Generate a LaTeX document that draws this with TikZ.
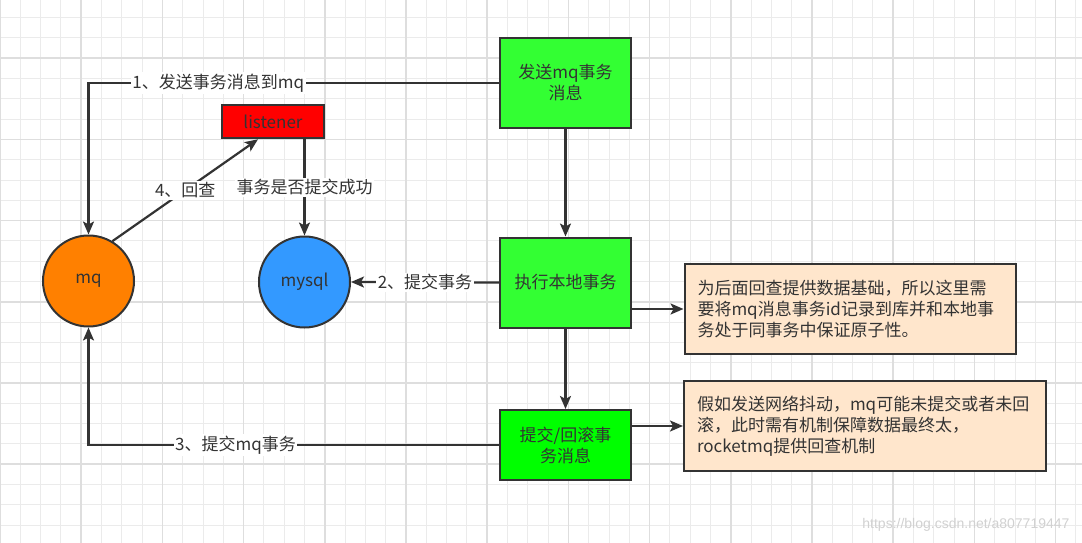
\documentclass[tikz,border=0pt]{standalone}
\usepackage{fontspec}
\setmainfont{Noto Sans CJK SC}
\newfontfamily\wmfont{Liberation Sans}
\usepackage{tikz}
\usetikzlibrary{arrows.meta, positioning}

\definecolor{lineclr}{HTML}{333333}
\definecolor{boxgreen}{HTML}{33FF33}
\definecolor{puregreen}{HTML}{00FF00}
\definecolor{mqorange}{HTML}{FF8000}
\definecolor{dbblue}{HTML}{3399FF}
\definecolor{notepeach}{HTML}{FFE6CC}

\begin{document}
\begin{tikzpicture}[
  x=1pt, y=-1pt,
  every node/.style={font=\fontsize{17}{21}\selectfont, text=lineclr},
  box/.style={
    rectangle, draw=lineclr, line width=2pt,
    minimum width=131pt, minimum height=90pt,
    align=center, inner sep=2pt
  },
  gbox/.style={box, fill=boxgreen},
  cbox/.style={box, fill=puregreen, minimum height=70pt},
  rbox/.style={box, fill=red, minimum width=102.5pt, minimum height=33pt},
  dbnode/.style={circle, draw=lineclr, line width=2pt, minimum size=91pt, inner sep=0pt},
  notebox/.style={
    rectangle, draw=lineclr, line width=2pt, fill=notepeach,
    align=left, inner xsep=13pt, minimum height=90pt
  },
  arr/.style={-{Stealth[length=13pt, width=11pt, inset=3pt]}, draw=lineclr, line width=2.2pt},
  lbl/.style={fill=white, inner sep=1.5pt},
  gridminor/.style={draw=black!8, line width=1pt},
  gridmajor/.style={draw=black!13, line width=1.5pt}
]

% page and grid
\useasboundingbox (0,0) rectangle (1082,543);
\fill[white] (0,0) rectangle (1082,543);
\foreach \k in {0,...,53} \draw[gridminor] (\k*20.3,0) -- (\k*20.3,543);
\foreach \k in {0,...,26} \draw[gridminor] (0,17.6+\k*20.3) -- (1082,17.6+\k*20.3);
\foreach \k in {0,...,13} \draw[gridmajor] (\k*81.2,0) -- (\k*81.2,543);
\foreach \k in {0,...,5}  \draw[gridmajor] (0,58.2+\k*81.2) -- (1082,58.2+\k*81.2);

% left side (broker, listener, database)
\node[dbnode, fill=mqorange] (mq)       at (88.5, 281)   {mq};
\node[dbnode, fill=dbblue]   (mysql)    at (304.5, 282)  {mysql};
\node[rbox]                  (listener) at (273, 121.8)  {listener};

% center column (producer steps)
\node[gbox] (send)   at (565.5, 83)    {发送mq事务\\消息};
\node[gbox] (exec)   at (565.5, 282.5) {执行本地事务};
\node[cbox] (commit) at (565.5, 445)   {提交/回滚事\\务消息};

% right column (notes)
\node[notebox, text width=305pt] (note1) at (850, 309)
  {为后面回查提供数据基础，所以这里需\\要将mq消息事务id记录到库并和本地事\\务处于同事务中保证原子性。};
\node[notebox, text width=336pt] (note2) at (865, 426)
  {假如发送网络抖动，mq可能未提交或者未回\\滚，此时需有机制保障数据最终太，\\rocketmq提供回查机制};

% watermark
\node[font=\wmfont\fontsize{14}{16}\selectfont, text=black!18, anchor=east] (mark)
  at (1073, 525) {https://blog.csdn.net/a807719447};

% ======================
% FLOWS
% ======================

% half message to mq
\draw[arr] (send.west) -| node[lbl, pos=0.342]{1、发送事务消息到mq} (mq.north);

% producer chain
\draw[arr] (send) -- (exec);
\draw[arr] (exec) -- (commit);

% local transaction
\draw[arr] (exec.west) -- node[lbl]{2、提交事务} (mysql.east);

% commit / rollback to mq
\draw[arr] (commit.west) -| node[lbl, pos=0.321]{3、提交mq事务} (mq.south);

% check back
\draw[arr] (mq.59) -- node[lbl]{4、回查} ([xshift=-15pt]listener.south);
\draw[arr] (listener.south -| mysql.north) -- node[lbl]{事务是否提交成功} (mysql.north);

% notes
\draw[arr] (exec.east |- note1.west) -- (note1.west);
\draw[arr] (commit.east |- note2.west) -- (note2.west);

\end{tikzpicture}
\end{document}
